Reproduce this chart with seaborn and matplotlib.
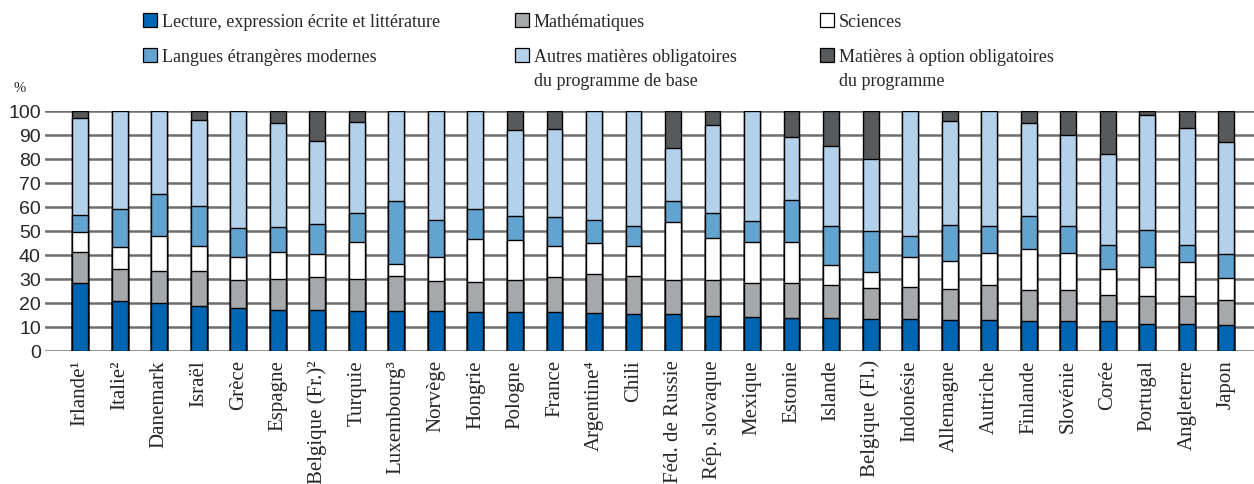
import numpy as np
import pandas as pd
import matplotlib
matplotlib.use("Agg")
import matplotlib.pyplot as plt
from matplotlib.patches import Rectangle
import seaborn as sns

# Pays (ordre du graphique) et notes
pays = ["Irlande", "Italie", "Danemark", "Israël", "Grèce", "Espagne", "Belgique (Fr.)",
        "Turquie", "Luxembourg", "Norvège", "Hongrie", "Pologne", "France", "Argentine",
        "Chili", "Féd. de Russie", "Rép. slovaque", "Mexique", "Estonie", "Islande",
        "Belgique (Fl.)", "Indonésie", "Allemagne", "Autriche", "Finlande", "Slovénie",
        "Corée", "Portugal", "Angleterre", "Japon"]
notes = {"Irlande": "¹", "Italie": "²", "Belgique (Fr.)": "²", "Luxembourg": "³", "Argentine": "⁴"}

# Part du temps d'instruction (%) par matière
lecture = [28.2, 21.0, 19.9, 18.9, 17.9, 17.2, 16.9, 16.5, 16.5, 16.5, 16.4, 16.1, 16.1, 15.8, 15.6,
           15.3, 14.7, 14.0, 13.9, 13.6, 13.5, 13.2, 13.1, 13.1, 12.6, 12.6, 12.6, 11.2, 11.1, 11.0]
maths = [13.0, 13.3, 13.3, 14.4, 11.5, 12.9, 14.1, 13.4, 14.7, 12.7, 12.5, 13.6, 14.6, 16.4, 15.5,
         14.4, 15.0, 14.5, 14.3, 13.8, 12.9, 13.6, 12.9, 14.4, 13.0, 13.0, 10.7, 11.6, 11.7, 10.1]
sciences = [8.5, 9.0, 14.6, 10.3, 9.6, 11.3, 9.6, 15.7, 5.2, 10.1, 17.9, 16.7, 12.9, 12.9, 12.6,
            24.0, 17.4, 17.1, 17.1, 8.4, 6.7, 12.5, 11.5, 13.3, 17.0, 15.4, 10.9, 12.3, 14.3, 9.3]
langues = [7.1, 16.0, 17.6, 16.7, 12.4, 10.4, 12.5, 12.0, 26.2, 15.1, 12.5, 9.9, 12.1, 9.6, 8.2,
           8.7, 10.3, 8.7, 17.5, 16.4, 16.8, 8.8, 15.1, 11.1, 13.8, 10.9, 9.8, 15.3, 7.2, 10.2]
autres = [40.1, 40.7, 34.6, 36.1, 48.6, 43.3, 34.4, 38.0, 37.4, 45.6, 40.7, 35.9, 36.9, 45.3, 48.1,
          22.2, 36.9, 45.7, 26.2, 33.1, 30.1, 51.9, 43.2, 48.1, 38.5, 38.2, 38.2, 47.8, 48.8, 46.5]
option = [3.1, 0, 0, 3.6, 0, 4.9, 12.5, 4.4, 0, 0, 0, 7.8, 7.4, 0, 0,
          15.4, 5.7, 0, 11.0, 14.7, 20.0, 0, 4.2, 0, 5.1, 9.9, 17.8, 1.8, 6.9, 12.9]

matieres = ["Lecture, expression écrite et littérature", "Mathématiques", "Sciences",
            "Langues étrangères modernes", "Autres matières obligatoires\ndu programme de base",
            "Matières à option obligatoires\ndu programme"]
couleurs = ["#0066b3", "#a7a8ab", "#ffffff", "#63a3d0", "#b3d1ea", "#58595b"]

df = pd.DataFrame({"pays": pays, "m0": lecture, "m1": maths, "m2": sciences,
                   "m3": langues, "m4": autres, "m5": option})
cumul = df[["m0", "m1", "m2", "m3", "m4", "m5"]].cumsum(axis=1)

sns.set_style("white")
serif = ["Liberation Serif", "DejaVu Serif"]

fig = plt.figure(figsize=(12.54, 4.85), dpi=100)
ax = fig.add_axes([45 / 1254, 1 - 352 / 485, 1 - 45 / 1254, 240 / 485])

# barres empilées : on dessine les cumuls du plus haut au plus bas
for i in range(5, -1, -1):
    sns.barplot(x=df["pays"], y=cumul[f"m{i}"], color=couleurs[i], edgecolor="black",
                linewidth=1.0, width=0.4, saturation=1, ax=ax, zorder=2)

ax.set_ylim(0, 100)
ax.set_xlim(-0.89, 29.7)
ax.set_yticks(range(0, 101, 10))
ax.yaxis.grid(True, color="#6e6e6e", linewidth=1.8)
ax.set_axisbelow(True)
for s in ax.spines.values():
    s.set_visible(False)
ax.set_xlabel("")
ax.set_ylabel("")
ax.tick_params(axis="y", length=0, pad=3, labelsize=14)
ax.tick_params(axis="x", length=0, pad=6)
for t in ax.get_yticklabels():
    t.set_fontfamily(["Liberation Sans", "DejaVu Sans"])
ax.set_xticks(range(len(pays)))
ax.set_xticklabels([p + notes.get(p, "") for p in pays], rotation=90,
                   fontsize=15, family=serif)

fig.text(20 / 1254, 1 - 88 / 485, "%", fontsize=10.5, family=serif, ha="center", va="center")

# légende faite à la main (carré aligné sur la première ligne)
cols = [143, 515, 820]
bases = [28, 63]
ordre = [(0, 0, 0), (1, 0, 1), (2, 0, 2), (3, 1, 0), (4, 1, 1), (5, 1, 2)]
for k, r, c in ordre:
    x0, yb = cols[c], bases[r]
    fig.add_artist(Rectangle((x0 / 1254, 1 - yb / 485), 14 / 1254, 14 / 485,
                             transform=fig.transFigure, facecolor=couleurs[k],
                             edgecolor="black", linewidth=0.9))
    fig.text((x0 + 19) / 1254, 1 - (yb - 14) / 485, matieres[k], fontsize=13,
             family=serif, ha="left", va="top", linespacing=1.55)

fig.savefig("out.png", dpi=100)
